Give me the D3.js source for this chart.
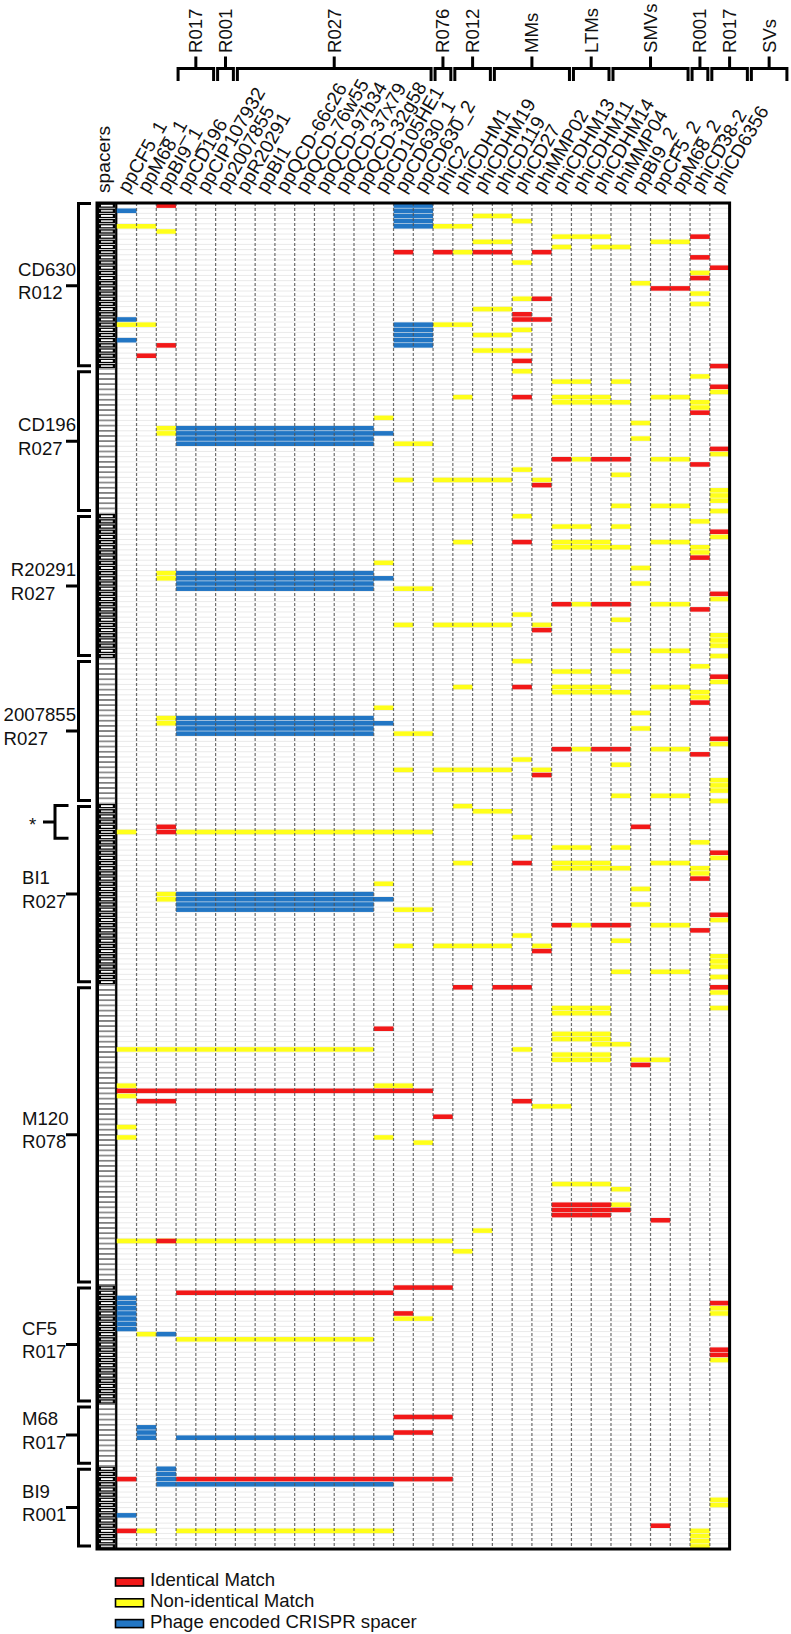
<!DOCTYPE html>
<html><head><meta charset="utf-8">
<script src="https://cdn.jsdelivr.net/npm/d3@7"></script>
<style>body{margin:0;background:#fff}text{font-family:"Liberation Sans",Arial,sans-serif;font-size:18.6px;fill:#111}</style>
</head><body><svg id="c" width="791" height="1634"></svg>
<script>
const columns = ["ppCF5_1","ppM68_1","ppBI9_1","ppCD196","ppCIP107932","pp2007855","ppR20291","ppBI1",
 "ppQCD-66c26","ppQCD-76w55","ppQCD-97b34","ppQCD-37x79","ppQCD-32g58","ppCD105HE1","ppCD630_1","ppCD630_2",
 "phiC2","phiCDHM1","phiCDHM19","phiCD119","phiCD27","phiMMP02","phiCDHM13","phiCDHM11","phiCDHM14","phiMMP04",
 "ppBI9_2","ppCF5_2","ppM68_2","phiCD38-2","phiCD6356"];
const topGroupNames = ["R017","R001","R027","R076","R012","MMs","LTMs","SMVs","R001","R017","SVs"];
const topGroupSizes = [2,1,10,1,2,4,2,4,1,2,2];
const strainNames = ["CD630","CD196","R20291","2007855","BI1","M120","CF5","M68","BI9"];
const strainRibotypes = ["R012","R027","R027","R027","R027","R078","R017","R017","R001"];
const strainSpacerCounts = [32,28,28,28,35,58,23,12,16];
const strainDarkSpacers = [true,false,true,false,true,false,true,false,true];
const starSpacers = [116,122];   // spacer range marked with *
const legendLabels = ["Identical Match","Non-identical Match","Phage encoded CRISPR spacer"];
const matchTypes = ["I","N","P"];
const matchColors = ["#f21818","#ffff1a","#2276c4"];

// matches: [spacer index within strain, first column, last column, type]
const cd630Matches = [
 [0,2,2,"I"],[0,14,15,"P"],[1,0,0,"P"],[1,14,15,"P"],[2,14,15,"P"],[2,18,19,"N"],[3,14,15,"P"],[3,20,20,"N"],
 [4,0,1,"N"],[4,14,15,"P"],[4,16,17,"N"],[5,2,2,"N"],[6,22,24,"N"],[6,29,29,"I"],[7,18,19,"N"],[7,27,28,"N"],
 [8,22,22,"N"],[8,24,25,"N"],[9,14,14,"I"],[9,16,16,"I"],[9,17,17,"N"],[9,18,19,"I"],[9,21,21,"I"],
 [10,29,29,"I"],[11,20,20,"N"],[12,30,30,"I"],[13,29,29,"N"],[14,29,29,"I"],[15,26,26,"N"],[16,27,28,"I"],
 [17,29,29,"N"],[18,20,20,"N"],[18,21,21,"I"],[19,29,29,"N"],[20,18,19,"N"],[21,20,20,"I"],[22,0,0,"P"],
 [22,20,21,"I"],[23,0,1,"N"],[23,14,15,"P"],[23,16,17,"N"],[24,20,20,"N"],[24,14,15,"P"],[25,14,15,"P"],
 [25,18,19,"N"],[26,0,0,"P"],[26,14,15,"P"],[27,2,2,"I"],[27,14,15,"P"],[28,18,20,"N"],[29,1,1,"I"],
 [30,20,20,"I"],[31,30,30,"I"]
];
// the four R027 arrays read identically in the picture
const cd196Matches = [
 [0,20,20,"N"],[1,29,29,"N"],[2,22,23,"N"],[2,25,25,"N"],[3,30,30,"I"],[4,30,30,"N"],
 [5,17,17,"N"],[5,20,20,"I"],[5,22,24,"N"],[5,27,28,"N"],[6,22,24,"N"],[6,25,25,"N"],[6,29,29,"N"],
 [7,29,29,"N"],[8,29,29,"I"],[9,13,13,"N"],[10,26,26,"N"],[11,2,2,"N"],[11,3,12,"P"],[12,2,2,"N"],
 [12,3,13,"P"],[13,3,12,"P"],[13,26,26,"N"],[14,3,12,"P"],[14,14,15,"N"],[15,30,30,"I"],[16,30,30,"N"],
 [17,22,22,"I"],[17,23,23,"N"],[17,24,25,"I"],[17,27,28,"N"],[18,29,29,"I"],[19,20,20,"N"],[20,25,25,"N"],
 [21,14,14,"N"],[21,16,19,"N"],[21,21,21,"N"],[22,21,21,"I"],[23,30,30,"N"],[24,30,30,"N"],[25,30,30,"N"],
 [26,25,25,"N"],[26,27,28,"N"],[27,30,30,"N"]
];
const r20291Matches = cd196Matches;
const s2007855Matches = cd196Matches;
const bi1StarMatches = [[0,17,17,"N"],[1,18,19,"N"],[4,2,2,"I"],[4,26,26,"I"],[5,0,0,"N"],[5,2,2,"I"],[5,3,15,"N"]];
const bi1Matches = [...bi1StarMatches, ...cd196Matches.map(m => [m[0]+6, m[1], m[2], m[3]])];
const m120Matches = [
 [0,17,17,"I"],[0,19,20,"I"],[0,30,30,"I"],[1,30,30,"N"],[4,22,24,"N"],[5,22,24,"N"],[4,30,30,"N"],
 [8,13,13,"I"],[9,22,24,"N"],[10,22,24,"N"],[11,24,25,"N"],[12,0,12,"N"],[12,20,20,"N"],
 [13,22,24,"N"],[14,22,24,"N"],[14,26,27,"N"],[15,26,26,"I"],[19,0,0,"N"],[19,13,14,"N"],
 [20,0,15,"I"],[21,0,0,"N"],[22,1,2,"I"],[22,20,20,"I"],[23,21,22,"N"],[25,16,16,"I"],
 [27,0,0,"N"],[29,0,0,"N"],[29,13,13,"N"],[30,15,15,"N"],[38,22,24,"N"],[39,25,25,"N"],
 [42,22,24,"I"],[43,22,24,"I"],[44,22,24,"I"],[42,25,25,"N"],[43,25,25,"I"],[45,27,27,"I"],
 [49,0,16,"N"],[49,2,2,"I"],[47,18,18,"N"],[51,17,17,"N"]
];
const cf5Matches = [
 [0,14,16,"I"],[1,3,13,"I"],[2,0,0,"P"],[3,0,0,"P"],[4,0,0,"P"],[5,0,0,"P"],[6,0,0,"P"],[7,0,0,"P"],
 [8,0,0,"P"],[5,14,14,"I"],[6,14,15,"N"],[9,2,2,"P"],[9,1,1,"N"],[10,3,12,"N"],
 [3,30,30,"I"],[4,30,30,"N"],[5,30,30,"N"],[12,30,30,"I"],[13,30,30,"I"],[14,30,30,"N"]
];
const m68Matches = [
 [2,14,16,"I"],[4,1,1,"P"],[5,1,1,"P"],[6,1,1,"P"],[5,14,15,"I"],[6,3,13,"P"]
];
const bi9Matches = [
 [0,2,2,"P"],[1,2,2,"P"],[2,0,0,"I"],[2,2,2,"P"],[2,3,16,"I"],[3,2,2,"P"],[3,3,13,"P"],
 [6,30,30,"N"],[7,30,30,"N"],[9,0,0,"P"],[11,27,27,"I"],[12,0,0,"I"],[12,1,1,"N"],[12,3,13,"N"],
 [12,29,29,"N"],[13,29,29,"N"],[14,29,29,"N"],[15,29,29,"N"]
];
const strainMatches = [cd630Matches,cd196Matches,r20291Matches,s2007855Matches,bi1Matches,m120Matches,cf5Matches,m68Matches,bi9Matches];

const svg = d3.select("#c");
const x = d3.scaleBand().domain(["spacers", ...columns]).range([97, 729.6]);
const totalRows = d3.sum(strainSpacerCounts);
const y = d3.scaleBand().domain(d3.range(totalRows)).range([203, 1549]);
const color = d3.scaleOrdinal().domain(matchTypes).range(matchColors);
const starts = strainSpacerCounts.map((n,i) => d3.sum(strainSpacerCounts.slice(0,i)));
const bw = x.bandwidth(), bh = y.bandwidth();
const gridL = x(columns[0]), gridR = x(columns[columns.length-1]) + bw;

// row lines
svg.append("g").selectAll("line").data(d3.range(totalRows+1)).join("line")
  .attr("x1", gridL).attr("x2", gridR)
  .attr("y1", d => 203 + d*bh).attr("y2", d => 203 + d*bh)
  .attr("stroke", "#e4e4e4").attr("stroke-width", 0.8);

// spacer column
const rows = d3.range(totalRows).map(r => {
  const s = d3.bisectRight(starts, r) - 1;
  return {r, s, dark: strainDarkSpacers[s]};
});
const sp = svg.append("g");
const sx = x("spacers");
sp.selectAll("rect.o").data(rows).join("rect")
  .attr("x", sx + 1.5).attr("width", bw - 3)
  .attr("y", d => y(d.r) + 0.4).attr("height", bh - 0.8)
  .attr("fill", d => d.dark ? "#000" : "#fff")
  .attr("stroke", d => d.dark ? "none" : "#666").attr("stroke-width", 0.8);
sp.selectAll("rect.i").data(rows.filter(d => d.dark)).join("rect")
  .attr("x", sx + 4).attr("width", bw - 8)
  .attr("y", d => y(d.r) + bh*0.32).attr("height", bh*0.36)
  .attr("fill", d => d.r % 2 ? "#cfcfcf" : "#fff");
sp.append("line").attr("x1", sx+1).attr("x2", sx+1).attr("y1",203).attr("y2",1549).attr("stroke","#000").attr("stroke-width",2);
sp.append("line").attr("x1", sx+bw-0.5).attr("x2", sx+bw-0.5).attr("y1",203).attr("y2",1549).attr("stroke","#000").attr("stroke-width",2.2);

// matches
const marks = [];
strainMatches.forEach((arr,i) => arr.forEach(m => marks.push({row: starts[i]+m[0], c0: m[1], c1: m[2], t: m[3]})));
svg.append("g").selectAll("rect").data(marks).join("rect")
  .attr("x", d => x(columns[d.c0]))
  .attr("width", d => x(columns[d.c1]) + bw - x(columns[d.c0]))
  .attr("y", d => y(d.row) + 0.3).attr("height", bh - 0.6)
  .attr("fill", d => color(d.t));

// dashed column separators
svg.append("g").selectAll("line").data(columns.slice(1)).join("line")
  .attr("x1", d => x(d)).attr("x2", d => x(d)).attr("y1", 203).attr("y2", 1549)
  .attr("stroke", "#555").attr("stroke-width", 1.2).attr("stroke-dasharray", "3,2").attr("opacity", 0.85);

// border
svg.append("rect").attr("x", 97).attr("y", 203).attr("width", gridR - 97).attr("height", 1549 - 203)
  .attr("fill", "none").attr("stroke", "#000").attr("stroke-width", 3);

// column labels
svg.append("g").selectAll("text").data(columns).join("text")
  .attr("transform", d => `translate(${x(d) + bw/2 + 1.5},194) rotate(-60)`)
  .style("font-size", "19.2px")
  .text(d => d);
svg.append("text").attr("transform", `translate(${sx + bw/2 + 3.5},193) rotate(-90)`).style("font-size", "19.2px").text("spacers");

// top brackets
let cs = 0;
const tg = svg.append("g").attr("fill", "none").attr("stroke", "#000").attr("stroke-width", 3);
topGroupNames.forEach((name, i) => {
  const c0 = cs, c1 = cs + topGroupSizes[i] - 1; cs += topGroupSizes[i];
  const shift = 3 * bw;
  const xa = x(columns[c0]) + shift + 2, xb = x(columns[c1]) + bw + shift - 2, cx = (xa + xb)/2;
  tg.append("path").attr("d", `M${xa},81V68.5H${xb}V81M${cx},68.5V56.5`);
  svg.append("text").attr("transform", `translate(${cx + 6.5},53) rotate(-90)`).text(name);
});

// left brackets and strain labels
const lg = svg.append("g").attr("fill", "none").attr("stroke", "#000").attr("stroke-width", 3);
strainNames.forEach((name, i) => {
  const top = y(starts[i]) + (i === 0 ? 0.5 : 3);
  const bot = y(starts[i] + strainSpacerCounts[i] - 1) + bh - 3;
  const mid = (y(starts[i]) + y(starts[i] + strainSpacerCounts[i] - 1) + bh) / 2;
  lg.append("path").attr("d", `M91,${top}H78.5V${bot}H91M78.5,${mid}H66`);
  const t1 = svg.append("text").attr("y", mid - 10).text(name);
  const t2 = svg.append("text").attr("y", mid + 13.5).text(strainRibotypes[i]);
  const w = Math.max(t1.node().getComputedTextLength(), t2.node().getComputedTextLength());
  const tx = Math.min(22, 76 - w);
  t1.attr("x", tx); t2.attr("x", tx);
});
// star bracket
{
  const top = y(starSpacers[0]) + 2, bot = y(starSpacers[1]) + bh - 1.5, mid = (top + bot)/2;
  lg.append("path").attr("d", `M68.5,${top}H55V${bot}H68.5M55,${mid}H43`);
  svg.append("text").attr("x", 29).attr("y", mid + 9).text("*");
}

// legend
const leg = svg.append("g");
legendLabels.forEach((lab, i) => {
  const by = 1586 + i * 20.8;
  leg.append("rect").attr("x", 115.5).attr("y", by - 8).attr("width", 28).attr("height", 8)
    .attr("fill", matchColors[i]).attr("stroke", "#000").attr("stroke-width", 1.6);
  leg.append("text").attr("x", 150).attr("y", by).text(lab);
});
</script></body></html>
